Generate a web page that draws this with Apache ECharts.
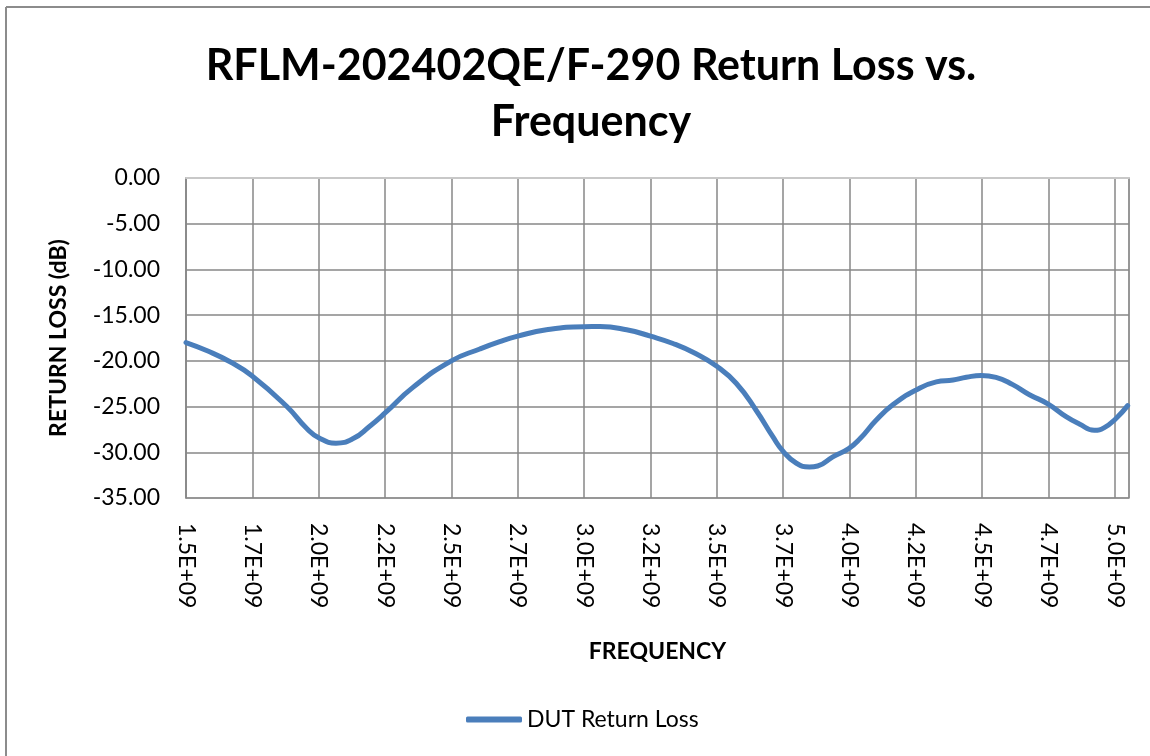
<!DOCTYPE html>
<html>
<head>
<meta charset="utf-8">
<script src="https://cdn.jsdelivr.net/npm/echarts@6/dist/echarts.min.js"></script>
<style>
    html, body { margin: 0; padding: 0; background: #fff; }
    #chart { width: 1150px; height: 756px; }
</style>
</head>
<body>
<div id="chart"></div>
<script>
let chart = document.getElementById('chart');

// frequency (Hz) and return loss (dB)
var freq = [
    1.500e9, 1.580e9, 1.666e9, 1.747e9, 1.880e9, 1.955e9, 2.000e9, 2.065e9, 2.130e9, 2.190e9,
    2.250e9, 2.355e9, 2.500e9, 2.607e9, 2.682e9, 2.750e9, 2.858e9, 3.000e9, 3.060e9, 3.160e9,
    3.250e9, 3.335e9, 3.420e9, 3.500e9, 3.573e9, 3.648e9, 3.711e9, 3.750e9, 3.800e9, 3.849e9,
    3.880e9, 3.937e9, 3.997e9, 4.040e9, 4.100e9, 4.163e9, 4.250e9, 4.327e9, 4.390e9, 4.440e9,
    4.496e9, 4.552e9, 4.615e9, 4.678e9, 4.747e9, 4.816e9, 4.866e9, 4.922e9, 4.960e9, 5.004e9,
    5.048e9
]
var returnLoss = [
    -18.0, -18.9, -20.1, -21.6, -25.0, -27.4, -28.4, -29.0, -28.5, -27.2,
    -25.7, -22.9, -20.0, -18.7, -17.9, -17.3, -16.6, -16.26, -16.25, -16.6,
    -17.3, -18.1, -19.2, -20.6, -22.45, -25.4, -28.3, -29.9, -31.2, -31.6,
    -31.5, -30.5, -29.6, -28.5, -26.5, -24.8, -23.2, -22.3, -22.1, -21.8,
    -21.6, -21.8, -22.6, -23.7, -24.7, -26.1, -26.9, -27.6, -27.3, -26.3,
    -24.9
]

// excel shows the category labels rounded to one decimal
var xTickLabels = ["1.5E+09", "1.7E+09", "2.0E+09", "2.2E+09", "2.5E+09", "2.7E+09", "3.0E+09", "3.2E+09",
    "3.5E+09", "3.7E+09", "4.0E+09", "4.2E+09", "4.5E+09", "4.7E+09", "5.0E+09"]

var seriesName = "DUT Return Loss"

var points = freq.map(function (f, i) { return [f, returnLoss[i]] })

var font = "Lato"
var gridColor = "#878787"
var lineColor = "#4a7ebb"

var option = {
    backgroundColor: "#fff",
    textStyle: { fontFamily: font },
    title: {
        text: "RFLM-202402QE/F-290 Return Loss vs.\nFrequency",
        left: 586,
        top: 33,
        textAlign: "center",
        textStyle: {
            fontFamily: font,
            fontSize: 43,
            fontWeight: "bold",
            color: "#000",
            lineHeight: 56
        }
    },
    graphic: [
        { type: "line", shape: { x1: 6, y1: 7, x2: 1150, y2: 7 }, style: { stroke: "#8c8c8c", lineWidth: 2 } },
        { type: "line", shape: { x1: 6, y1: 7, x2: 6, y2: 756 }, style: { stroke: "#8c8c8c", lineWidth: 2 } }
    ],
    legend: {
        data: [{ name: seriesName, icon: "roundRect" }],
        left: 461,
        bottom: 20,
        itemWidth: 56,
        itemHeight: 6,
        itemGap: 6,
        itemStyle: { color: lineColor, borderWidth: 0 },
        textStyle: { fontSize: 23, color: "#000", fontFamily: font, padding: [0, 0, 0, 0] }
    },
    grid: {
        left: 186,
        top: 178,
        right: 21,
        bottom: 258,
        show: true,
        borderColor: "#c8c8c8",
        borderWidth: 2,
        containLabel: false
    },
    xAxis: {
        type: "value",
        min: 1.5e9,
        max: 5.053e9,
        interval: 0.25e9,
        name: "FREQUENCY",
        nameLocation: "middle",
        nameGap: 142,
        nameTextStyle: { fontSize: 23, fontWeight: "bold", color: "#000", fontFamily: font },
        axisLine: { show: true, lineStyle: { color: "#c8c8c8", width: 2 } },
        axisTick: { show: false },
        splitLine: { show: true, lineStyle: { color: gridColor, width: 1.5 } },
        axisLabel: {
            rotate: -90,
            margin: 25,
            fontSize: 23,
            color: "#000",
            fontFamily: font,
            showMaxLabel: false,
            formatter: function (v) {
                let k = (v - 1.5e9) / 0.25e9
                if (Math.abs(k - Math.round(k)) > 0.01) return ""
                return xTickLabels[Math.round(k)] || ""
            }
        }
    },
    yAxis: {
        type: "value",
        min: -35,
        max: 0,
        interval: 5,
        name: "RETURN LOSS (dB)",
        nameLocation: "middle",
        nameGap: 116,
        nameTextStyle: { fontSize: 23, fontWeight: "bold", color: "#000", fontFamily: font },
        axisLine: { show: true, lineStyle: { color: gridColor, width: 1.5 } },
        axisTick: { show: false },
        splitLine: { show: true, lineStyle: { color: gridColor, width: 1.5 } },
        axisLabel: {
            margin: 26,
            fontSize: 23,
            color: "#000",
            fontFamily: font,
            formatter: function (v) { return v.toFixed(2) }
        }
    },
    series: [
        {
            name: seriesName,
            type: "line",
            data: points,
            smooth: 0.5,
            symbol: "none",
            lineStyle: { color: lineColor, width: 5, cap: "round" },
            itemStyle: { color: lineColor }
        }
    ]
};

echarts.init(chart).setOption(option, true);
</script>
</body>
</html>
